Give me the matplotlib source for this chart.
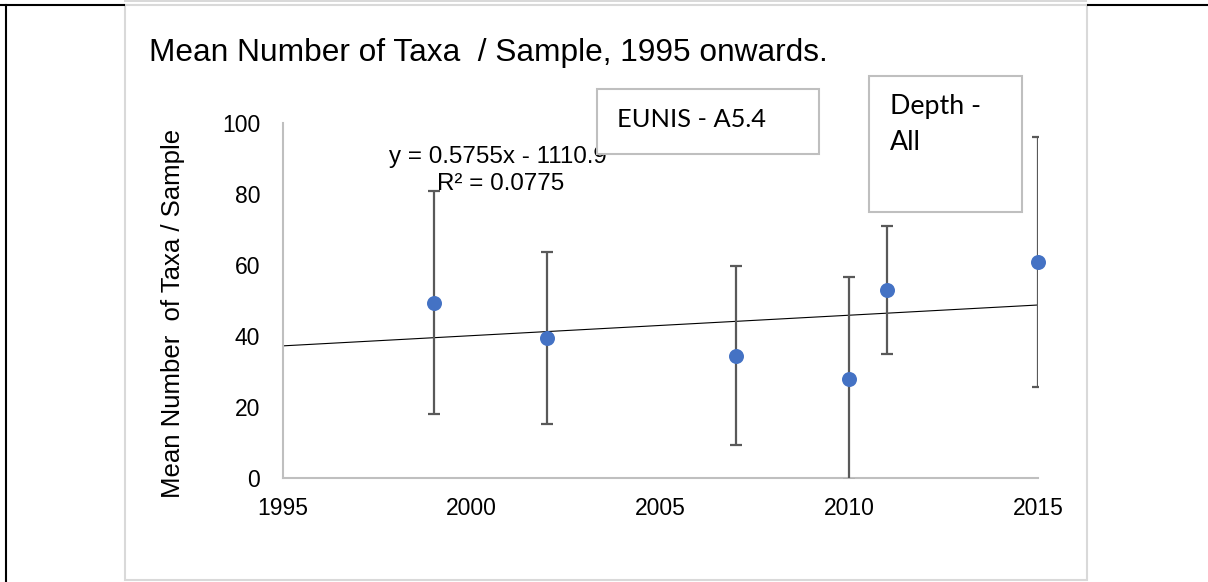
import matplotlib
matplotlib.use("Agg")
import matplotlib.pyplot as plt
from matplotlib.patches import Rectangle
from matplotlib.lines import Line2D
import numpy as np

# ---- data ----
years = [1999, 2002, 2007, 2010, 2011, 2015]
means = [49.4, 39.5, 34.5, 28.0, 52.9, 60.8]
errors = [31.4, 24.2, 25.1, 28.5, 18.1, 35.3]
trend_slope = 0.5755
trend_intercept = -1110.9
x_ticks = [1995, 2000, 2005, 2010, 2015]
y_ticks = [0, 20, 40, 60, 80, 100]
title = "Mean Number of Taxa  / Sample, 1995 onwards."
y_label = "Mean Number  of Taxa / Sample"
eq_text = "y = 0.5755x - 1110.9"
r2_text = "R\u00b2 = 0.0775"
box1_text = "EUNIS - A5.4"
box2_lines = ["Depth -", "All"]

W, H = 1208, 582
fig = plt.figure(figsize=(W / 100, H / 100), dpi=100)
fig.patch.set_facecolor("white")


def fx(x):
    return x / W


def fy(y):
    return 1 - y / H


# outer black frame lines
fig.add_artist(Line2D([fx(0), fx(124)], [fy(5), fy(5)], color="black", lw=1.5))
fig.add_artist(Line2D([fx(1088), fx(W)], [fy(5), fy(5)], color="black", lw=1.5))
fig.add_artist(Line2D([fx(6), fx(6)], [fy(5), fy(H)], color="black", lw=1.5))
# grey band at very top
fig.add_artist(Rectangle((fx(124), fy(2)), fx(1087) - fx(124), 2 / H,
                         transform=fig.transFigure, facecolor="#d9d9d9",
                         edgecolor="none"))
# chart border
fig.add_artist(Rectangle((fx(125), fy(580)), fx(1087) - fx(125), fy(5) - fy(580),
                         transform=fig.transFigure, facecolor="none",
                         edgecolor="#d9d9d9", lw=1.5))

# axes
ax_l, ax_r, ax_t, ax_b = 283, 1038, 123, 478
ax = fig.add_axes([fx(ax_l), fy(ax_b), fx(ax_r) - fx(ax_l), fy(ax_t) - fy(ax_b)])
ax.set_xlim(1995, 2015)
ax.set_ylim(0, 100)
ax.set_facecolor("none")
for s in ["top", "right"]:
    ax.spines[s].set_visible(False)
for s in ["left", "bottom"]:
    ax.spines[s].set_color("#bfbfbf")
    ax.spines[s].set_linewidth(1.5)
ax.set_xticks(x_ticks)
ax.set_yticks(y_ticks)
ax.tick_params(length=0, labelsize=16.5, colors="black")
ax.tick_params(axis="y", pad=16.5)
ax.tick_params(axis="x", pad=13.5)
for lab in ax.get_xticklabels() + ax.get_yticklabels():
    lab.set_fontfamily("Liberation Sans")

# trendline
tx = np.array([1995, 2015])
ax.plot(tx, trend_slope * tx + trend_intercept, color="black", lw=0.8, zorder=2)

# error bars
ax.errorbar(years, means, yerr=errors, fmt="none", ecolor="#595959",
            elinewidth=1.6, capsize=4.2, capthick=1.6, zorder=3)
ax.plot(years, means, "o", color="#4472C4", markersize=10.8, zorder=4,
        clip_on=False, markeredgewidth=0)

# title and labels
fig.text(fx(149), fy(61), title, fontsize=22.8, family="Liberation Sans",
         ha="left", va="baseline")
fig.text(fx(173), fy(313), y_label, fontsize=18.5, family="Liberation Sans",
         rotation=90, ha="center", va="center")

# trend equation (behind box)
fig.text(fx(389), fy(163), eq_text, fontsize=17.4, family="Liberation Sans",
         ha="left", va="baseline", zorder=1)
fig.text(fx(437), fy(190.5), r2_text, fontsize=17.4, family="Liberation Sans",
         ha="left", va="baseline", zorder=1)

# text boxes
fig.add_artist(Rectangle((fx(597), fy(154)), fx(819) - fx(597), fy(89) - fy(154),
                         transform=fig.transFigure, facecolor="white",
                         edgecolor="#bfbfbf", lw=1.5, zorder=2))
fig.text(fx(617), fy(127), box1_text, fontsize=18.3, family="Lato",
         ha="left", va="baseline", zorder=3)
fig.add_artist(Rectangle((fx(869), fy(212)), fx(1022) - fx(869), fy(76) - fy(212),
                         transform=fig.transFigure, facecolor="white",
                         edgecolor="#bfbfbf", lw=1.5, zorder=2))
for line, base in zip(box2_lines, [114, 150]):
    fig.text(fx(890), fy(base), line, fontsize=19.3, family="Lato",
             ha="left", va="baseline", zorder=3)

fig.savefig("out.png", dpi=100, facecolor="white")
